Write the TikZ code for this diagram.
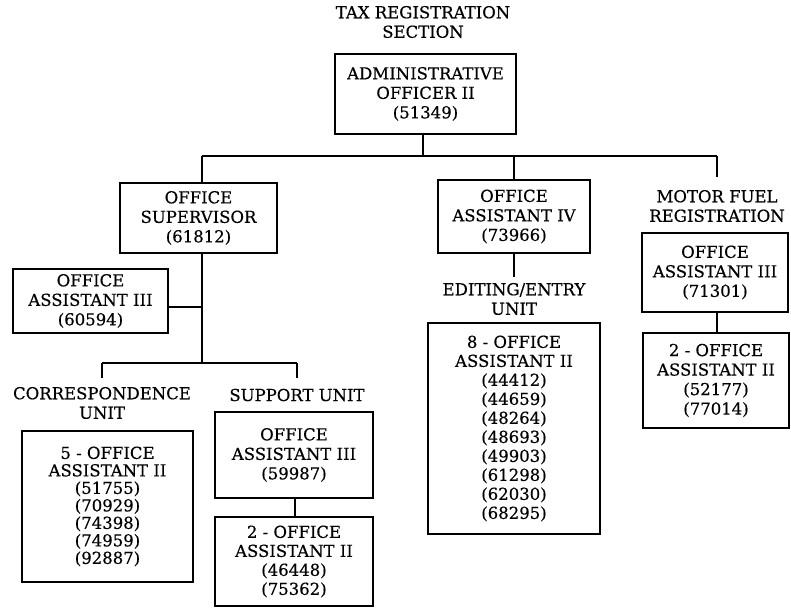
\documentclass[tikz,border=0pt]{standalone}
\usepackage{fontspec}
\setmainfont{DejaVu Serif}
\newfontfamily\orgfont[FakeBold=0.4]{DejaVu Serif}
\begin{document}
\begin{tikzpicture}[x=1pt,y=-1pt,
  lbl/.style={align=center,inner sep=0pt,font=\orgfont\fontsize{16.5}{19.5}\selectfont},
  unit/.style={draw,line width=1.3pt,align=center,inner sep=0pt,font=\orgfont\fontsize{16.5}{19.5}\selectfont},
  tight/.style={font=\orgfont\fontsize{16.5}{17.5}\selectfont},
  mid/.style={font=\orgfont\fontsize{16.5}{19}\selectfont},
  link/.style={line width=1.3pt}]
\useasboundingbox (0,0) rectangle (791,608);

% section title
\node[lbl] (title) at (423,22) {TAX REGISTRATION\\SECTION};

% head of section
\node[unit,minimum width=181pt,minimum height=80pt] (admin) at (425.5,94)
  {ADMINISTRATIVE\\OFFICER II\\(51349)};

% second level
\node[unit,minimum width=157pt,minimum height=70pt] (sup) at (198.5,218)
  {OFFICE\\SUPERVISOR\\(61812)};
\node[unit,minimum width=152pt,minimum height=73pt] (oa4) at (514,216.5)
  {OFFICE\\ASSISTANT IV\\(73966)};
\node[lbl] (mfr) at (717,206) {MOTOR FUEL\\REGISTRATION};
\node[unit,minimum width=146pt,minimum height=79pt] (mfoa3) at (715,272.5)
  {OFFICE\\ASSISTANT III\\(71301)};
\node[unit,minimum width=146pt,minimum height=95pt] (mfoa2) at (716,380.5)
  {2 - OFFICE\\ASSISTANT II\\(52177)\\(77014)};

% supervisor's staff and units
\node[unit,minimum width=155pt,minimum height=64pt] (supoa3) at (90.5,301)
  {OFFICE\\ASSISTANT III\\(60594)};
\node[lbl] (corr) at (102,403) {CORRESPONDENCE\\UNIT};
\node[unit,tight,minimum width=171pt,minimum height=151pt] (corroa2) at (107.5,506.5)
  {5 - OFFICE\\ASSISTANT II\\(51755)\\(70929)\\(74398)\\(74959)\\(92887)};
\node[lbl] (supp) at (297,395) {SUPPORT UNIT};
\node[unit,minimum width=158pt,minimum height=86pt] (suppoa3) at (294,455)
  {OFFICE\\ASSISTANT III\\(59987)};
\node[unit,mid,minimum width=158pt,minimum height=89pt] (suppoa2) at (294,561.5)
  {2 - OFFICE\\ASSISTANT II\\(46448)\\(75362)};

% editing/entry unit
\node[lbl] (edit) at (514,299) {EDITING/ENTRY\\UNIT};
\node[unit,mid,minimum width=172pt,minimum height=211pt] (editoa2) at (514,428.5)
  {8 - OFFICE\\ASSISTANT II\\(44412)\\(44659)\\(48264)\\(48693)\\(49903)\\(61298)\\(62030)\\(68295)};

% bus coordinates
\coordinate (busL) at (202,156);
\coordinate (busR) at (717,156);
\coordinate (mfTop) at (717,177);
\coordinate (supJ) at (202,307);
\coordinate (supBus) at (202,363);
\coordinate (corrBus) at (102,363);
\coordinate (corrEnd) at (102,378);
\coordinate (suppBus) at (297,363);
\coordinate (suppEnd) at (297,378);

% connectors
\draw[link] (admin.south -| 423,0) -- (423,156);
\draw[link] (busL) -- (busR);
\draw[link] (busL) -- (sup.north -| busL);
\draw[link] (oa4.north |- busL) -- (oa4.north);
\draw[link] (busR) -- (mfTop);
\draw[link] (sup.south -| busL) -- (supBus);
\draw[link] (supoa3.east |- supJ) -- (supJ);
\draw[link] (corrBus) -- (suppBus);
\draw[link] (corrBus) -- (corrEnd);
\draw[link] (suppBus) -- (suppEnd);
\draw[link] (oa4.south) -- (514,277);
\draw[link] (suppoa3.south -| 295,0) -- (suppoa2.north -| 295,0);
\draw[link] (mfoa3.south -| 717,0) -- (mfoa2.north -| 717,0);
\end{tikzpicture}
\end{document}
